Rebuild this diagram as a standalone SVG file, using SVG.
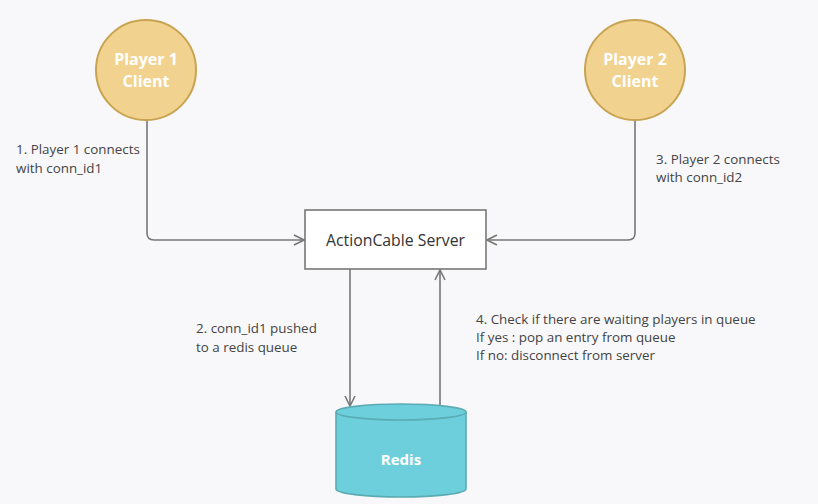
<svg xmlns="http://www.w3.org/2000/svg" width="818" height="504" viewBox="0 0 818 504">
<defs>
<style>
.lbl{font-family:"Open Sans","Noto Sans",sans-serif;font-size:13.4px;fill:#444}
.ntext{font-family:"Open Sans","Noto Sans",sans-serif;font-weight:bold;font-size:15px;fill:#fff;text-anchor:middle}
.ptext{font-size:16px}
.player{fill:#f1d38f;stroke:#c8a452;stroke-width:2}
.conn{fill:none;stroke:#777;stroke-width:1.6}
</style>
<marker id="arr" viewBox="0 0 12 12" refX="11" refY="6" markerWidth="12" markerHeight="12" markerUnits="userSpaceOnUse" orient="auto">
<path d="M1,1 L11,6 L1,11" fill="none" stroke="#777" stroke-width="1.6"/>
</marker>
</defs>
<rect width="818" height="504" fill="#f8f8fa"/>
<g id="connectors">
<path class="conn" d="M147,120 V233 Q147,240 154,240 H304" marker-end="url(#arr)"/>
<path class="conn" d="M635,120 V233 Q635,240 628,240 H487" marker-end="url(#arr)"/>
<path class="conn" d="M350,269 V406" marker-end="url(#arr)"/>
<path class="conn" d="M440,405 V270" marker-end="url(#arr)"/>
</g>
<g id="player1">
<circle class="player" cx="146" cy="70" r="50"/>
<text class="ntext ptext" x="146" y="65">Player 1</text>
<text class="ntext ptext" x="146" y="87">Client</text>
</g>
<g id="player2">
<circle class="player" cx="635" cy="70" r="50"/>
<text class="ntext ptext" x="635" y="65">Player 2</text>
<text class="ntext ptext" x="635" y="87">Client</text>
</g>
<g id="server">
<rect x="305" y="210" width="181" height="59" fill="#fff" stroke="#777" stroke-width="1.6"/>
<text x="395.5" y="246" text-anchor="middle" font-family="'Open Sans','Noto Sans',sans-serif" font-size="15.8" font-weight="500" fill="#333">ActionCable Server</text>
</g>
<g id="redis">
<path d="M336,412 V489 A65,8 0 0 0 466,489 V412" fill="#6dcfdc" stroke="#5aabb3" stroke-width="1.6"/>
<ellipse cx="401" cy="412" rx="65" ry="8" fill="#6dcfdc" stroke="#5aabb3" stroke-width="1.6"/>
<text class="ntext" x="401" y="465" font-size="16">Redis</text>
</g>
<g id="labels">
<text class="lbl" x="16" y="154">1. Player 1 connects</text>
<text class="lbl" x="16" y="173">with conn_id1</text>
<text class="lbl" x="656" y="164">3. Player 2 connects</text>
<text class="lbl" x="656" y="182">with conn_id2</text>
<text class="lbl" x="196" y="333">2. conn_id1 pushed</text>
<text class="lbl" x="196" y="352">to a redis queue</text>
<text class="lbl" x="476" y="324">4. Check if there are waiting players in queue</text>
<text class="lbl" x="476" y="342">If yes : pop an entry from queue</text>
<text class="lbl" x="476" y="360">If no: disconnect from server</text>
</g>
</svg>
